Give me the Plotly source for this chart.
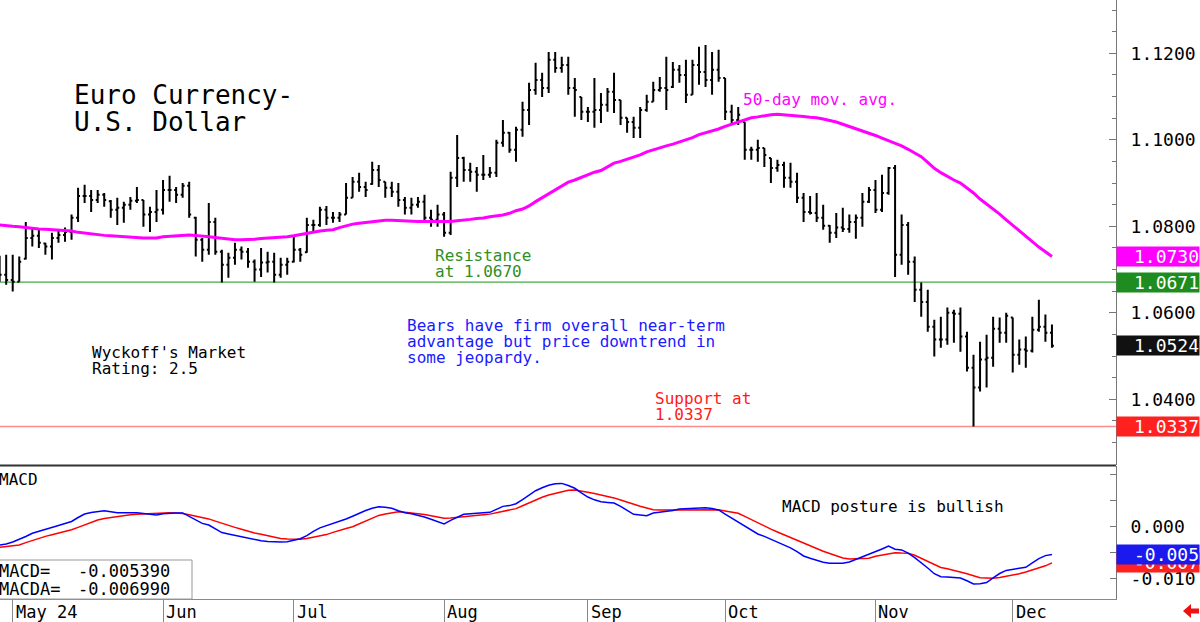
import plotly.graph_objects as go
import pandas as pd

# ---------------- data ----------------
dates = pd.bdate_range("2024-04-29", "2024-12-10")
month_labels = ["May 24", "Jun", "Jul", "Aug", "Sep", "Oct", "Nov", "Dec"]

opens = [1.0720,1.0688,1.0676,1.0672,1.0725,1.0773,1.0778,1.0760,1.0753,1.0773,
         1.0780,1.0787,1.0820,1.0870,1.0870,1.0861,1.0873,1.0858,1.0838,1.0843,
         1.0850,1.0859,1.0861,1.0827,1.0833,1.0838,1.0884,1.0884,1.0873,1.0894,
         1.0820,1.0769,1.0746,1.0810,1.0741,1.0711,1.0727,1.0746,1.0741,1.0718,
         1.0700,1.0716,1.0718,1.0688,1.0711,1.0718,1.0746,1.0740,1.0803,1.0803,
         1.0838,1.0820,1.0820,1.0827,1.0866,1.0903,1.0891,1.0898,1.0930,1.0903,
         1.0889,1.0880,1.0861,1.0843,1.0850,1.0857,1.0820,1.0815,1.0827,1.0785,
         1.0912,1.0958,1.0930,1.0926,1.0919,1.0919,1.0924,1.0993,1.1016,1.0977,
         1.1023,1.1069,1.1115,1.1138,1.1120,1.1185,1.1166,1.1173,1.1120,1.1099,
         1.1065,1.1065,1.1069,1.1081,1.1111,1.1092,1.1051,1.1041,1.1028,1.1069,
         1.1088,1.1115,1.1120,1.1122,1.1162,1.1150,1.1104,1.1173,1.1157,1.1138,
         1.1162,1.1143,1.1065,1.1046,1.1041,1.0977,1.0977,1.0981,1.0958,1.0935,
         1.0942,1.0912,1.0903,1.0866,1.0833,1.0831,1.0820,1.0801,1.0785,1.0797,
         1.0794,1.0810,1.0820,1.0857,1.0884,1.0838,1.0877,1.0935,1.0734,1.0803,
         1.0718,1.0653,1.0625,1.0568,1.0538,1.0538,1.0600,1.0598,1.0545,1.0473,
         1.0427,1.0492,1.0496,1.0563,1.0554,1.0589,1.0503,1.0515,1.0512,1.0561,
         1.0568,1.0554]

highs = [1.0732,1.0734,1.0734,1.0730,1.0810,1.0797,1.0792,1.0762,1.0785,1.0792,
         1.0797,1.0827,1.0889,1.0896,1.0884,1.0884,1.0877,1.0861,1.0866,1.0857,
         1.0868,1.0891,1.0861,1.0845,1.0884,1.0907,1.0917,1.0891,1.0900,1.0903,
         1.0822,1.0773,1.0854,1.0820,1.0746,1.0739,1.0762,1.0753,1.0750,1.0723,
         1.0750,1.0741,1.0739,1.0727,1.0727,1.0776,1.0750,1.0820,1.0815,1.0845,
         1.0847,1.0833,1.0833,1.0900,1.0914,1.0924,1.0903,1.0949,1.0942,1.0903,
         1.0903,1.0900,1.0868,1.0866,1.0868,1.0873,1.0838,1.0850,1.0833,1.0926,
         1.1011,1.0961,1.0947,1.0937,1.0965,1.0937,1.1000,1.1046,1.1018,1.1030,
         1.1088,1.1132,1.1178,1.1155,1.1203,1.1203,1.1192,1.1192,1.1143,1.1099,
         1.1076,1.1143,1.1108,1.1120,1.1155,1.1092,1.1051,1.1053,1.1076,1.1104,
         1.1134,1.1145,1.1192,1.1180,1.1173,1.1185,1.1185,1.1215,1.1219,1.1203,
         1.1208,1.1143,1.1081,1.1076,1.1041,1.0984,1.1000,1.0981,1.0958,1.0954,
         1.0949,1.0947,1.0924,1.0877,1.0870,1.0877,1.0850,1.0803,1.0831,1.0843,
         1.0827,1.0827,1.0877,1.0891,1.0907,1.0919,1.0937,1.0942,1.0827,1.0810,
         1.0730,1.0670,1.0653,1.0584,1.0591,1.0612,1.0607,1.0612,1.0556,1.0503,
         1.0533,1.0549,1.0591,1.0589,1.0600,1.0589,1.0538,1.0545,1.0591,1.0630,
         1.0596,1.0573]

lows = [1.0672,1.0665,1.0649,1.0672,1.0723,1.0753,1.0750,1.0734,1.0723,1.0762,
        1.0764,1.0769,1.0810,1.0854,1.0833,1.0854,1.0845,1.0820,1.0803,1.0808,
        1.0838,1.0854,1.0799,1.0787,1.0810,1.0827,1.0857,1.0854,1.0866,1.0820,
        1.0730,1.0718,1.0734,1.0734,1.0670,1.0681,1.0711,1.0723,1.0704,1.0672,
        1.0683,1.0693,1.0670,1.0681,1.0688,1.0716,1.0718,1.0739,1.0785,1.0799,
        1.0803,1.0808,1.0810,1.0827,1.0866,1.0880,1.0868,1.0896,1.0891,1.0866,
        1.0868,1.0845,1.0827,1.0827,1.0843,1.0810,1.0799,1.0799,1.0776,1.0780,
        1.0891,1.0903,1.0903,1.0880,1.0907,1.0912,1.0914,1.0984,1.0970,1.0949,
        1.1007,1.1034,1.1104,1.1099,1.1108,1.1155,1.1155,1.1104,1.1053,1.1046,
        1.1041,1.1028,1.1039,1.1065,1.1062,1.1034,1.1016,1.1004,1.1004,1.1065,
        1.1088,1.1111,1.1069,1.1120,1.1132,1.1085,1.1104,1.1127,1.1122,1.1104,
        1.1134,1.1046,1.1034,1.1034,1.0954,1.0954,1.0949,1.0937,1.0900,1.0926,
        1.0889,1.0889,1.0854,1.0810,1.0827,1.0810,1.0792,1.0762,1.0773,1.0787,
        1.0785,1.0771,1.0799,1.0854,1.0831,1.0833,1.0873,1.0683,1.0711,1.0688,
        1.0625,1.0591,1.0556,1.0499,1.0519,1.0526,1.0531,1.0510,1.0464,1.0337,
        1.0418,1.0427,1.0475,1.0531,1.0531,1.0462,1.0480,1.0473,1.0508,1.0556,
        1.0533,1.0519]

closes = [1.0688,1.0676,1.0672,1.0718,1.0773,1.0778,1.0762,1.0753,1.0773,1.0780,
          1.0787,1.0820,1.0870,1.0870,1.0861,1.0873,1.0861,1.0838,1.0843,1.0850,
          1.0859,1.0861,1.0827,1.0833,1.0838,1.0884,1.0884,1.0873,1.0894,1.0827,
          1.0769,1.0746,1.0810,1.0741,1.0711,1.0727,1.0746,1.0741,1.0718,1.0700,
          1.0716,1.0718,1.0688,1.0711,1.0718,1.0746,1.0734,1.0803,1.0803,1.0838,
          1.0820,1.0820,1.0827,1.0866,1.0903,1.0891,1.0884,1.0930,1.0907,1.0889,
          1.0880,1.0861,1.0843,1.0850,1.0857,1.0820,1.0815,1.0827,1.0785,1.0912,
          1.0958,1.0930,1.0926,1.0919,1.0919,1.0924,1.0993,1.1016,1.0977,1.1023,
          1.1069,1.1115,1.1138,1.1120,1.1185,1.1166,1.1173,1.1120,1.1115,1.1065,
          1.1065,1.1069,1.1081,1.1111,1.1092,1.1051,1.1041,1.1028,1.1069,1.1088,
          1.1115,1.1120,1.1115,1.1162,1.1150,1.1104,1.1173,1.1157,1.1138,1.1162,
          1.1143,1.1065,1.1046,1.1058,1.0977,1.0977,1.0981,1.0965,1.0935,1.0942,
          1.0912,1.0903,1.0866,1.0833,1.0831,1.0820,1.0801,1.0785,1.0797,1.0794,
          1.0810,1.0820,1.0857,1.0884,1.0838,1.0877,1.0935,1.0734,1.0803,1.0718,
          1.0653,1.0625,1.0568,1.0538,1.0538,1.0600,1.0598,1.0545,1.0473,1.0427,
          1.0492,1.0496,1.0563,1.0554,1.0593,1.0503,1.0515,1.0512,1.0561,1.0568,
          1.0554,1.0524]

ma50 = [1.0803,1.0801,1.0800,1.0799,1.0797,1.0795,1.0794,1.0793,1.0792,1.0791,
        1.0790,1.0789,1.0786,1.0784,1.0782,1.0780,1.0779,1.0778,1.0777,1.0776,
        1.0775,1.0773,1.0773,1.0773,1.0773,1.0776,1.0777,1.0778,1.0779,1.0780,
        1.0779,1.0778,1.0776,1.0774,1.0772,1.0770,1.0769,1.0769,1.0769,1.0770,
        1.0772,1.0773,1.0773,1.0775,1.0776,1.0778,1.0781,1.0784,1.0787,1.0789,
        1.0791,1.0792,1.0797,1.0801,1.0805,1.0807,1.0809,1.0811,1.0813,1.0814,
        1.0814,1.0813,1.0813,1.0812,1.0811,1.0811,1.0811,1.0811,1.0811,1.0811,
        1.0813,1.0814,1.0816,1.0818,1.0819,1.0822,1.0824,1.0826,1.0830,1.0836,
        1.0840,1.0847,1.0857,1.0866,1.0875,1.0884,1.0894,1.0902,1.0907,1.0913,
        1.0919,1.0925,1.0929,1.0937,1.0946,1.0950,1.0955,1.0960,1.0965,1.0972,
        1.0977,1.0982,1.0986,1.0990,1.0995,1.1000,1.1005,1.1012,1.1016,1.1020,
        1.1025,1.1031,1.1036,1.1041,1.1046,1.1051,1.1053,1.1056,1.1058,1.1059,
        1.1058,1.1056,1.1055,1.1054,1.1052,1.1051,1.1048,1.1045,1.1041,1.1036,
        1.1031,1.1026,1.1020,1.1016,1.1010,1.1004,1.0998,1.0992,1.0986,1.0978,
        1.0970,1.0961,1.0948,1.0934,1.0924,1.0915,1.0907,1.0900,1.0889,1.0877,
        1.0863,1.0852,1.0840,1.0828,1.0815,1.0802,1.0789,1.0777,1.0764,1.0752,
        1.0741,1.0730]

macd = [-0.00356,-0.00337,-0.00298,-0.00250,-0.00192,-0.00131,-0.00096,-0.00062,-0.00025,0.00019,
        0.00058,0.00096,0.00173,0.00240,0.00269,0.00290,0.00302,0.00283,0.00265,0.00265,
        0.00265,0.00263,0.00250,0.00231,0.00221,0.00246,0.00258,0.00262,0.00262,0.00198,
        0.00133,0.00060,0.00029,-0.00042,-0.00117,-0.00144,-0.00171,-0.00196,-0.00229,-0.00260,
        -0.00275,-0.00287,-0.00298,-0.00298,-0.00292,-0.00263,-0.00235,-0.00177,-0.00092,-0.00027,
        0.00017,0.00060,0.00090,0.00144,0.00198,0.00260,0.00308,0.00350,0.00379,0.00369,
        0.00352,0.00304,0.00265,0.00246,0.00217,0.00183,0.00138,0.00098,0.00050,0.00117,
        0.00183,0.00235,0.00244,0.00254,0.00263,0.00273,0.00329,0.00387,0.00402,0.00438,
        0.00519,0.00608,0.00688,0.00744,0.00794,0.00821,0.00829,0.00788,0.00735,0.00648,
        0.00567,0.00513,0.00477,0.00463,0.00450,0.00387,0.00308,0.00235,0.00221,0.00208,
        0.00260,0.00273,0.00283,0.00308,0.00337,0.00344,0.00350,0.00356,0.00360,0.00346,
        0.00319,0.00237,0.00163,0.00083,0.00006,-0.00071,-0.00144,-0.00190,-0.00242,-0.00298,
        -0.00350,-0.00412,-0.00483,-0.00567,-0.00612,-0.00650,-0.00688,-0.00708,-0.00708,-0.00708,
        -0.00683,-0.00635,-0.00587,-0.00535,-0.00485,-0.00433,-0.00375,-0.00437,-0.00450,-0.00513,
        -0.00598,-0.00690,-0.00798,-0.00908,-0.00967,-0.00971,-0.00975,-0.00990,-0.01044,-0.01104,
        -0.01100,-0.01077,-0.00987,-0.00904,-0.00844,-0.00821,-0.00804,-0.00785,-0.00700,-0.00617,
        -0.00560,-0.00539]

macda = [-0.00400,-0.00385,-0.00371,-0.00356,-0.00310,-0.00265,-0.00223,-0.00190,-0.00160,-0.00131,
         -0.00100,-0.00063,-0.00017,0.00031,0.00077,0.00125,0.00154,0.00175,0.00194,0.00210,
         0.00225,0.00237,0.00244,0.00252,0.00260,0.00263,0.00263,0.00258,0.00252,0.00227,
         0.00202,0.00175,0.00146,0.00104,0.00060,0.00019,-0.00017,-0.00054,-0.00092,-0.00125,
         -0.00150,-0.00177,-0.00204,-0.00231,-0.00242,-0.00244,-0.00246,-0.00229,-0.00204,-0.00179,
         -0.00156,-0.00113,-0.00071,-0.00040,-0.00004,0.00048,0.00104,0.00160,0.00213,0.00240,
         0.00262,0.00285,0.00273,0.00260,0.00246,0.00229,0.00206,0.00183,0.00160,0.00165,
         0.00175,0.00183,0.00194,0.00210,0.00225,0.00238,0.00263,0.00290,0.00317,0.00344,
         0.00398,0.00454,0.00508,0.00563,0.00606,0.00638,0.00669,0.00696,0.00700,0.00683,
         0.00658,0.00633,0.00606,0.00577,0.00550,0.00510,0.00465,0.00421,0.00388,0.00356,
         0.00323,0.00317,0.00317,0.00317,0.00317,0.00319,0.00323,0.00325,0.00327,0.00329,
         0.00321,0.00298,0.00277,0.00254,0.00194,0.00129,0.00065,0.00004,-0.00050,-0.00106,
         -0.00158,-0.00213,-0.00267,-0.00325,-0.00379,-0.00433,-0.00475,-0.00519,-0.00562,-0.00606,
         -0.00625,-0.00621,-0.00615,-0.00612,-0.00573,-0.00548,-0.00519,-0.00504,-0.00510,-0.00513,
         -0.00552,-0.00613,-0.00677,-0.00740,-0.00787,-0.00813,-0.00840,-0.00867,-0.00908,-0.00946,
         -0.00985,-0.00990,-0.00994,-0.00981,-0.00960,-0.00937,-0.00910,-0.00875,-0.00840,-0.00798,
         -0.00756,-0.00699]

resistance = 1.0671
support = 1.0337
macd_last = -0.005390
macda_last = -0.006990
price_ticks = [1.04, 1.06, 1.08, 1.10, 1.12]
macd_ticks = [0.010, 0.005, 0.0, -0.005, -0.010]
macd_ticktext = ["", "", "0.000", "", "-0.010"]

# ---------------- helpers ----------------
W, H = 1200, 622
MONO = "DejaVu Sans Mono"
def px(x):
    return x / W
def py(y):
    return 1 - y / H

idx = list(range(len(dates)))
month_idx = [i for i in idx if i == 0 or dates[i].month != dates[i - 1].month][1:]

XR = 0.93  # right edge of plotting area (paper)

fig = go.Figure()

fig.add_trace(go.Ohlc(
    x=idx, open=opens, high=highs, low=lows, close=closes,
    increasing=dict(line=dict(color="black", width=2)),
    decreasing=dict(line=dict(color="black", width=2)),
    tickwidth=0.3, hoverinfo="skip", xaxis="x", yaxis="y"))

fig.add_trace(go.Scatter(
    x=idx, y=ma50, mode="lines", line=dict(color="#ff00ff", width=3),
    hoverinfo="skip", xaxis="x", yaxis="y"))

fig.add_trace(go.Scatter(
    x=idx, y=macda, mode="lines", line=dict(color="#ff0000", width=1.5),
    hoverinfo="skip", xaxis="x", yaxis="y2"))
fig.add_trace(go.Scatter(
    x=idx, y=macd, mode="lines", line=dict(color="#0000ff", width=1.5),
    hoverinfo="skip", xaxis="x", yaxis="y2"))

shapes = [
    dict(type="line", xref="paper", yref="y", x0=0, x1=XR, y0=resistance, y1=resistance,
         line=dict(color="#44aa44", width=1.2), layer="below"),
    dict(type="line", xref="paper", yref="y", x0=0, x1=XR, y0=support, y1=support,
         line=dict(color="#ff8c8c", width=1.6), layer="below"),
    dict(type="line", xref="paper", yref="paper", x0=0, x1=XR, y0=py(465.5), y1=py(465.5),
         line=dict(color="#333333", width=2)),
    dict(type="rect", xref="paper", yref="paper", x0=px(-2), x1=px(192), y0=py(599), y1=py(560),
         line=dict(color="#999999", width=1), fillcolor="white"),
]
arrow = [(1183, 611), (1191, 604), (1191, 608.5), (1199, 608.5), (1199, 613.5),
         (1191, 613.5), (1191, 618)]
path = "M " + " L ".join(f"{px(a):.5f},{py(b):.5f}" for a, b in arrow) + " Z"
shapes.append(dict(type="path", xref="paper", yref="paper", path=path,
                   fillcolor="#ee1111", line=dict(color="#ee1111", width=0)))

ann = []
def text(x, y, s, color="black", size=16, anchor="left"):
    ann.append(dict(x=px(x), y=py(y), xref="paper", yref="paper", text=s, showarrow=False,
                    xanchor=anchor, yanchor="middle",
                    font=dict(family=MONO, size=size, color=color)))

text(72, 95, "Euro Currency-", size=26)
text(72, 122, "U.S. Dollar", size=26)
text(741, 100, "50-day mov. avg.", color="#ff00ff")
text(433, 255, "Resistance", color="#2f8f1f")
text(433, 271, "at 1.0670", color="#2f8f1f")
text(405, 325, "Bears have firm overall near-term", color="#1a1aff")
text(405, 341, "advantage but price downtrend in", color="#1a1aff")
text(405, 357, "some jeopardy.", color="#1a1aff")
text(90, 352, "Wyckoff's Market")
text(90, 368, "Rating: 2.5")
text(653, 398, "Support at", color="#ff1a1a")
text(653, 414, "1.0337", color="#ff1a1a")
text(780, 506, "MACD posture is bullish")
text(-3, 480, "MACD", size=16)
text(-3, 571, "MACD=", size=17)
text(-3, 589, "MACDA=", size=17)
text(76, 571, f"{macd_last:.6f}", size=17)
text(76, 589, f"{macda_last:.6f}", size=17)

for i, lab in zip(month_idx, month_labels):
    ann.append(dict(x=i + 0.15, y=py(612), xref="x", yref="paper", text=lab, showarrow=False,
                    xanchor="left", yanchor="middle",
                    font=dict(family=MONO, size=17, color="black")))

def box(val, yref, s, bg):
    ann.append(dict(x=XR, y=val, xref="paper", yref=yref, text=s, showarrow=False,
                    xanchor="left", yanchor="middle", width=82, height=19, align="right",
                    bgcolor=bg, borderpad=0,
                    font=dict(family=MONO, size=18, color="white")))

box(ma50[-1], "y", f"{ma50[-1]:.4f}", "#ff00ff")
box(resistance, "y", f"{resistance:.4f}", "#1e8c1e")
box(closes[-1], "y", f"{closes[-1]:.4f}", "#111111")
box(support, "y", f"{support:.4f}", "#ff2020")
box(macda_last, "y2", f"{macda_last:.3f}", "#ff2020")
box(macd_last, "y2", f"{macd_last:.3f}", "#1a1aee")

p_top = 1.13232
p_bot = 1.02481
m_top = 0.011635
m_bot = -0.013942

fig.update_layout(
    width=W, height=H, margin=dict(l=0, r=0, t=0, b=0),
    paper_bgcolor="white", plot_bgcolor="white", showlegend=False,
    shapes=shapes, annotations=ann,
    xaxis=dict(domain=[0, XR], range=[0.055, 170.8], anchor="y2",
               showgrid=False, zeroline=False, rangeslider=dict(visible=False),
               tickvals=month_idx, ticktext=[""] * len(month_idx), showticklabels=False,
               ticks="outside", ticklen=23, tickwidth=1, tickcolor="#888888",
               showline=True, linecolor="#888888", linewidth=1),
    yaxis=dict(domain=[py(465), 1], range=[p_bot, p_top], side="right", anchor="x",
               tickvals=price_ticks, tickformat=".4f", ticks="inside", ticklen=7,
               tickcolor="#777777", showline=True, linecolor="#777777", linewidth=1,
               showgrid=False, zeroline=False, ticklabelstandoff=10,
               tickfont=dict(family=MONO, size=18, color="black"),
               minor=dict(dtick=0.005, tick0=1.0, ticks="inside", ticklen=4,
                          tickcolor="#777777")),
    yaxis2=dict(domain=[py(599), py(466)], range=[m_bot, m_top], side="right", anchor="x",
                tickvals=macd_ticks, ticktext=macd_ticktext, ticks="inside", ticklen=6,
                tickcolor="#777777", showline=True, linecolor="#777777", linewidth=1,
                showgrid=False, zeroline=False, ticklabelstandoff=10,
                tickfont=dict(family=MONO, size=18, color="black")),
)

fig.write_html("out.html", config={"displayModeBar": False})
